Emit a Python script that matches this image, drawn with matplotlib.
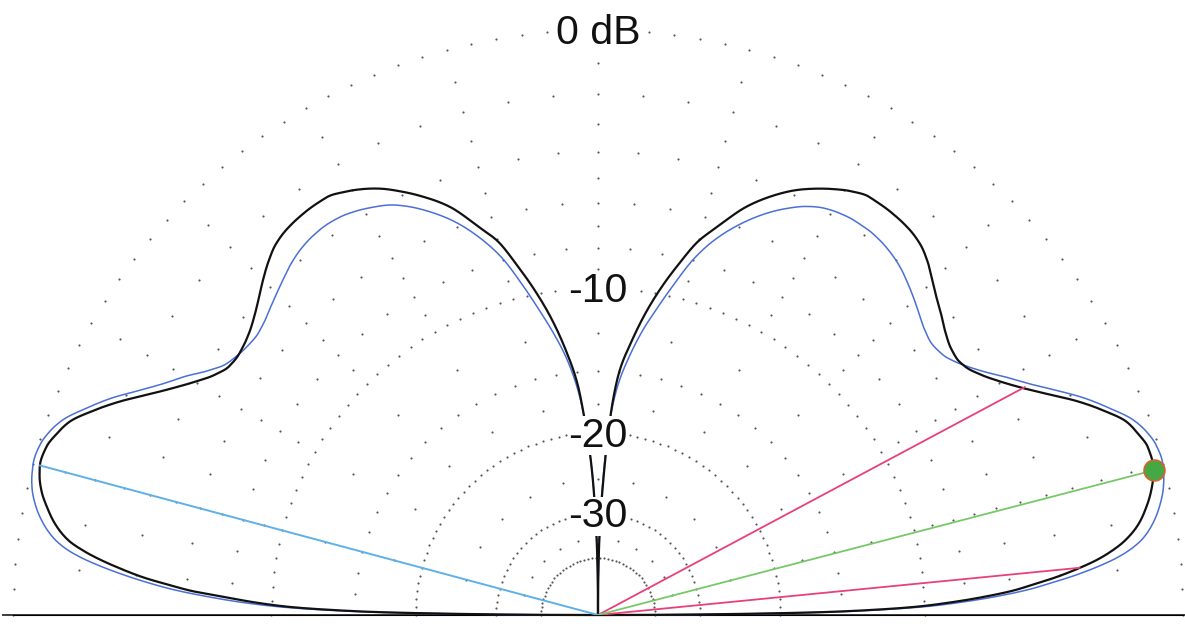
import numpy as np
import matplotlib
matplotlib.use("Agg")
import matplotlib.pyplot as plt

# ---------------------------------------------------------------------------
# Elevation pattern data (elevation angle in degrees, gain in dB)
# Right half: angle measured from the right horizon.
# Left half: angle measured from the left horizon.
# ---------------------------------------------------------------------------
elev_pts = [0, 0.3, 0.5, 0.75, 1.0, 1.45, 2.0, 2.7, 3.4, 4.0, 4.7, 5.6, 6.3, 7.0,
            8.0, 9.5, 11, 12.5, 14, 15.5, 17, 18.5, 20, 22, 24, 26, 28, 30, 32,
            34, 35.5, 37, 39, 41, 43, 45, 47, 49, 51, 53, 55, 57, 59, 61, 63, 65,
            67, 70, 73, 75, 77, 79, 81, 83, 85, 86, 87, 87.8, 88.6, 89.3, 90]

black_right_db = [-100, -30, -22, -16.1, -13.5, -10.6, -8.8, -7.1, -5.8, -5.05, -4.16,
                  -3.24, -2.63, -2.16, -1.64, -1.13, -0.81, -0.56, -0.38, -0.28, -0.3,
                  -0.45, -0.65, -1.2, -1.85, -2.6, -3.3, -3.9, -4.4, -4.75, -4.85,
                  -4.8, -4.6, -4.3, -4.0, -3.65, -3.28, -3.0, -2.85, -2.78, -2.75,
                  -2.75, -2.9, -3.15, -3.45, -3.8, -4.25, -5.1, -6.3, -7.1, -8.3,
                  -9.6, -11.1, -12.9, -15.0, -17.1, -21.0, -25.5, -31.0, -40.0, -100]

black_left_db = [-100, -31, -23, -16.8, -14.2, -11.2, -9.4, -7.8, -6.2, -5.3, -4.3,
                 -3.35, -2.7, -2.15, -1.55, -1.05, -0.72, -0.45, -0.28, -0.2, -0.25,
                 -0.42, -0.65, -1.22, -1.88, -2.62, -3.3, -3.9, -4.4, -4.7, -4.75,
                 -4.7, -4.55, -4.3, -3.98, -3.62, -3.28, -3.0, -2.85, -2.78, -2.75,
                 -2.76, -2.92, -3.15, -3.45, -3.85, -4.3, -5.1, -6.3, -7.1, -8.4,
                 -9.8, -11.4, -13.4, -16.0, -18.5, -21.5, -25.0, -31.0, -40.0, -100]

blue_right_db = [-100, -29, -21, -15.6, -13.0, -10.0, -8.2, -6.5, -5.2, -4.4, -3.5,
                 -2.55, -1.95, -1.5, -1.05, -0.65, -0.38, -0.18, -0.06, 0.0, -0.05,
                 -0.2, -0.45, -1.0, -1.6, -2.3, -3.0, -3.6, -4.2, -4.7, -5.0,
                 -5.2, -5.28, -5.15, -4.9, -4.62, -4.35, -4.1, -3.92, -3.8, -3.74,
                 -3.74, -3.8, -3.93, -4.18, -4.55, -5.0, -5.85, -6.95, -7.95, -9.3,
                 -10.7, -12.1, -13.8, -15.9, -17.6, -20.5, -24.5, -30.0, -40.0, -100]

blue_left_db = [-100, -30, -22, -16.2, -13.5, -10.5, -8.6, -6.9, -5.5, -4.6, -3.7,
                -2.7, -2.05, -1.55, -1.08, -0.65, -0.36, -0.16, -0.05, 0.0, -0.05,
                -0.2, -0.45, -1.0, -1.6, -2.3, -2.95, -3.5, -4.1, -4.55, -4.7,
                -4.8, -4.85, -4.75, -4.55, -4.33, -4.1, -3.87, -3.7, -3.6, -3.56,
                -3.6, -3.72, -3.9, -4.12, -4.47, -4.92, -5.75, -6.9, -7.9, -9.3,
                -10.8, -12.3, -14.0, -16.5, -18.5, -21.5, -25.0, -31.0, -40.0, -100]

# Cursor (maximum) and -3 dB beamwidth markers on the black trace
cursor_elev_right = 14.6
cursor_db_right = -0.3
cursor_elev_left = 15.0
cursor_db_left = -0.22
bw_elev = [5.6, 28.1]
bw_db = [-3.26, -3.26]

# Scale labels
ring_labels = ["0 dB", "-10", "-20", "-30"]
ring_label_db = [0, -10, -20, -30]

# ---------------------------------------------------------------------------
# ARRL logarithmic radial scale: every 2 dB shrinks the radius by 0.89
# ---------------------------------------------------------------------------
K = 0.89


def db_to_r(db):
    db = np.asarray(db, dtype=float)
    return K ** (-db / 2.0)


def r_to_db(r):
    r = np.clip(np.asarray(r, dtype=float), 1e-300, None)
    return -2.0 * np.log(r) / np.log(K)


def pchip(x, y, xn):
    """Shape-preserving piecewise cubic through (x, y), used to draw the traces."""
    x = np.asarray(x, float)
    y = np.asarray(y, float)
    h = np.diff(x)
    d = np.diff(y) / h
    m = np.zeros_like(y)
    for k in range(1, len(x) - 1):
        if d[k - 1] * d[k] > 0:
            w1 = 2 * h[k] + h[k - 1]
            w2 = h[k] + 2 * h[k - 1]
            m[k] = (w1 + w2) / (w1 / d[k - 1] + w2 / d[k])
    m[0] = d[0]
    m[-1] = d[-1]
    i = np.clip(np.searchsorted(x, xn) - 1, 0, len(x) - 2)
    t = (xn - x[i]) / h[i]
    h00 = 2 * t**3 - 3 * t**2 + 1
    h10 = t**3 - 2 * t**2 + t
    h01 = -2 * t**3 + 3 * t**2
    h11 = t**3 - t**2
    return h00 * y[i] + h10 * h[i] * m[i] + h01 * y[i + 1] + h11 * h[i] * m[i + 1]


def trace(elev, db, left=False):
    e_fine = np.linspace(0, 90, 3601)
    r_fine = np.clip(pchip(elev, db_to_r(db), e_fine), 1e-6, None)
    theta = np.deg2rad(180.0 - e_fine if left else e_fine)
    return theta, r_to_db(r_fine)


W, H = 1185, 631
fig = plt.figure(figsize=(W / 100, H / 100), dpi=100)

R = 585.0             # 0 dB radius in pixels
cx, cy = 598.0, 16.0  # pattern origin (pixels from left / bottom)
# the half-disc wedge sits in a square box with the origin 1/4 up from the bottom
ax = fig.add_axes([(cx - R) / W, (cy - R / 2) / H, 2 * R / W, 2 * R / H],
                  projection="polar")
ax.set_rscale("function", functions=(db_to_r, r_to_db))
ax.set_rlim(-200, 0)
ax.set_thetamin(0)
ax.set_thetamax(180)
ax.grid(False)
ax.set_xticks([])
ax.set_yticks([])
for sp in ax.spines.values():
    sp.set_visible(False)
ax.patch.set_visible(False)

dot_color = "#555555"

# dotted rings
ring_levels = [0, -10, -20, -30, -40]
ring_steps = [2.5, 2.5, 2.5, 3.75, 4.0]
for lvl, step in zip(ring_levels, ring_steps):
    th = np.deg2rad(np.arange(0, 180.001, step))
    ax.scatter(th, np.full_like(th, lvl), s=2.4, color=dot_color, lw=0,
               clip_on=False, zorder=1)

# dotted spokes every 5 degrees
major_levels = [-1, -2, -3, -4, -5, -6, -7, -8, -9, -12.5, -15, -17.5, -25, -35]
minor_levels = [-2, -4, -6, -8, -15]
for ang in range(5, 180, 5):
    lv = major_levels if ang % 15 == 0 else minor_levels
    th = np.full(len(lv), np.deg2rad(ang))
    ax.scatter(th, lv, s=2.4, color=dot_color, lw=0, clip_on=False, zorder=1)

# horizon line
ax.plot([0, 0], [0.3, -200], color="#3c3c3c", lw=1.4, clip_on=False, zorder=2)
ax.plot([np.pi, np.pi], [-200, 0.3], color="#3c3c3c", lw=1.4, clip_on=False, zorder=2)

# pattern traces
blue_c = "#4a6fd6"
black_c = "#111111"
for db, left in ((blue_right_db, False), (blue_left_db, True)):
    t, d = trace(elev_pts, db, left)
    ax.plot(t, d, color=blue_c, lw=1.1, zorder=3, clip_on=False)
for db, left in ((black_right_db, False), (black_left_db, True)):
    t, d = trace(elev_pts, db, left)
    ax.plot(t, d, color=black_c, lw=1.6, zorder=4, clip_on=False)

# beamwidth and cursor lines
for e, d in zip(bw_elev, bw_db):
    ax.plot([np.deg2rad(e)] * 2, [-200, d], color="#e8407a", lw=1.3, zorder=5)
ax.plot([np.deg2rad(cursor_elev_right)] * 2, [-200, cursor_db_right],
        color="#78c86a", lw=1.3, zorder=5)
ax.plot([np.deg2rad(180 - cursor_elev_left)] * 2, [-200, cursor_db_left],
        color="#5fb0e8", lw=1.4, zorder=5)
ax.plot(np.deg2rad(cursor_elev_right), cursor_db_right, "o", ms=15,
        mfc="#45a845", mec="#d8602a", mew=1.2, zorder=6, clip_on=False)

# ring labels, glyphs centred on the ring top
for txt, lvl in zip(ring_labels, ring_label_db):
    ax.annotate(txt, xy=(np.pi / 2, lvl), xytext=(0, -14),
                textcoords="offset pixels", ha="center", va="baseline",
                fontsize=29.5, family="Liberation Sans", color="#111111",
                zorder=7, annotation_clip=False,
                bbox=dict(facecolor="white", edgecolor="none", pad=0.3))

fig.savefig("out.png", dpi=100, facecolor="white")
